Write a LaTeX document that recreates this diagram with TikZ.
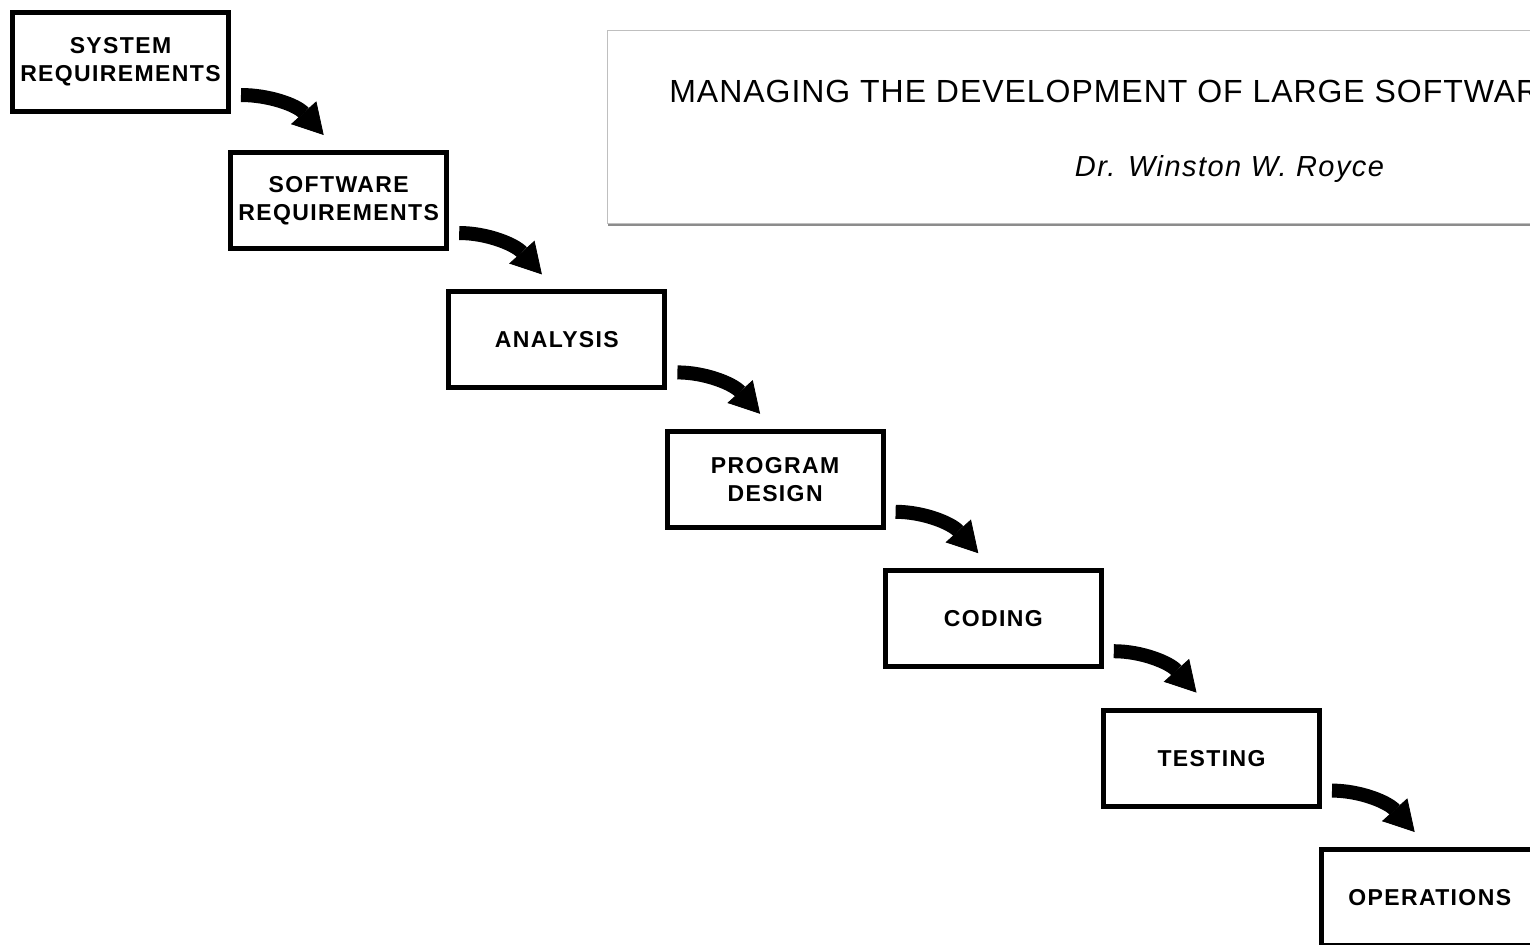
\documentclass[tikz,border=0pt]{standalone}
\usepackage{fontspec}
\setmainfont{Liberation Sans}
\newfontfamily\labelfont{Liberation Sans}[LetterSpace=6]
\newfontfamily\titlefont{Liberation Sans}[LetterSpace=3]
\newfontfamily\authorfont{Liberation Sans}[LetterSpace=5]
\usetikzlibrary{arrows.meta, positioning, shadows}

\begin{document}
\begin{tikzpicture}[
    x=0.5pt, y=-0.5pt,
    node distance=19.2pt and -1.4pt,
    phase/.style={draw, line width=2.5pt, minimum width=108pt,
                  minimum height=48pt, inner sep=0pt, align=center,
                  font=\labelfont\bfseries\fontsize{11.5pt}{13.8pt}\selectfont},
    paperbox/.style={draw=black!25, line width=0.6pt, fill=white,
                     drop shadow={shadow xshift=0pt, shadow yshift=-1.5pt, fill=black!45, opacity=1},
                     minimum width=480pt, minimum height=96.4pt},
    flow/.style={line width=7pt, -{Triangle[length=15pt, width=17pt, line width=0.4pt]}},
]
\useasboundingbox (0,0) rectangle (1530,944);
\clip (0,0) rectangle (1530,944);

% Paper heading
\node[paperbox, anchor=north west] (paper) at (607,30) {};
\node[font=\titlefont\fontsize{16pt}{19pt}\selectfont, anchor=base west, inner sep=0pt]
    (title) at (669,102) {MANAGING THE DEVELOPMENT OF LARGE SOFTWAR};
\node[font=\authorfont\itshape\fontsize{14.5pt}{17pt}\selectfont, anchor=base, inner sep=0pt]
    (author) at (1229.5,176) {Dr. Winston W. Royce};

% Waterfall steps
\node[phase, anchor=north west, minimum height=49.5pt] (sysreq) at (10,10) {SYSTEM\\REQUIREMENTS};
\node[phase, below right=18pt and -1.4pt of sysreq] (swreq) {SOFTWARE\\REQUIREMENTS};
\node[phase, below right=of swreq] (analysis) {ANALYSIS};
\node[phase, below right=of analysis] (progdesign) {PROGRAM\\DESIGN};
\node[phase, below right=of progdesign] (coding) {CODING};
\node[phase, below right=of coding] (testing) {TESTING};
\node[phase, below right=of testing] (operations) {OPERATIONS};

\draw[flow] ([shift={(10,-19)}]sysreq.south east) .. controls +(28,0) and +(-27,-30) .. ([shift={(-15,-15)}]swreq.north);
\draw[flow] ([shift={(10,-18)}]swreq.south east) .. controls +(28,0) and +(-27,-30) .. ([shift={(-15,-15)}]analysis.north);
\draw[flow] ([shift={(10,-18)}]analysis.south east) .. controls +(28,0) and +(-27,-30) .. ([shift={(-15,-15)}]progdesign.north);
\draw[flow] ([shift={(10,-18)}]progdesign.south east) .. controls +(28,0) and +(-27,-30) .. ([shift={(-15,-15)}]coding.north);
\draw[flow] ([shift={(10,-18)}]coding.south east) .. controls +(28,0) and +(-27,-30) .. ([shift={(-15,-15)}]testing.north);
\draw[flow] ([shift={(10,-18)}]testing.south east) .. controls +(28,0) and +(-27,-30) .. ([shift={(-15,-15)}]operations.north);
\end{tikzpicture}
\end{document}
